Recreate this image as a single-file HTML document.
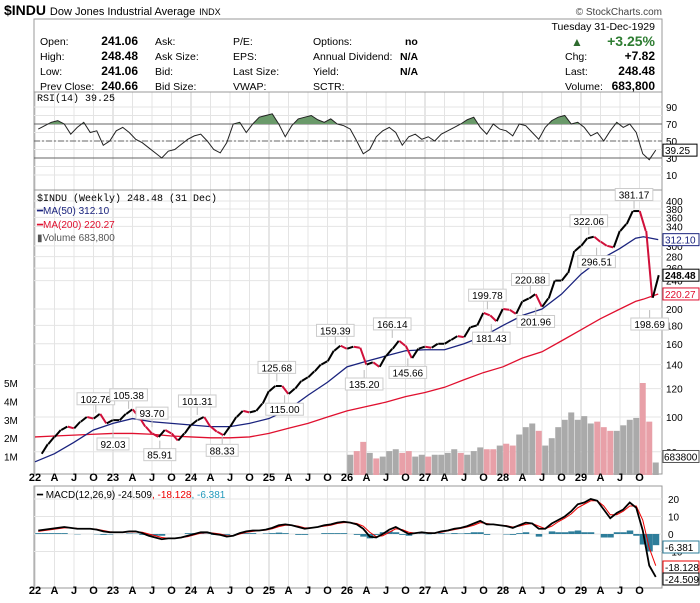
<!DOCTYPE html>
<html><head><meta charset="utf-8"><style>
body{margin:0;background:#fff;}
svg{display:block;font-family:"Liberation Sans",sans-serif;}
</style></head><body>
<svg id="c" width="700" height="603" viewBox="0 0 700 603" xmlns="http://www.w3.org/2000/svg">
<text x="4" y="15" font-size="14" font-weight="bold">$INDU <tspan font-size="11" font-weight="normal">Dow Jones Industrial Average</tspan> <tspan font-size="9" font-weight="normal">INDX</tspan></text>
<text x="662" y="15" font-size="10" fill="#444" text-anchor="end">© StockCharts.com</text>
<g font-size="10.5">
<rect x="34" y="19" width="628" height="73" fill="#fff" stroke="#999"/>
<text x="655" y="30" text-anchor="end">Tuesday  31-Dec-1929</text>
<text x="40" y="45">Open:</text><text x="138" y="45" text-anchor="end" font-weight="bold" font-size="12">241.06</text>
<text x="40" y="60">High:</text><text x="138" y="60" text-anchor="end" font-weight="bold" font-size="12">248.48</text>
<text x="40" y="75">Low:</text><text x="138" y="75" text-anchor="end" font-weight="bold" font-size="12">241.06</text>
<text x="40" y="90">Prev Close:</text><text x="138" y="90" text-anchor="end" font-weight="bold" font-size="12">240.66</text>
<text x="155" y="45">Ask:</text><text x="155" y="60">Ask Size:</text><text x="155" y="75">Bid:</text><text x="155" y="90">Bid Size:</text>
<text x="233" y="45">P/E:</text><text x="233" y="60">EPS:</text><text x="233" y="75">Last Size:</text><text x="233" y="90">VWAP:</text>
<text x="313" y="45">Options:</text><text x="313" y="60">Annual Dividend:</text><text x="313" y="75">Yield:</text><text x="313" y="90">SCTR:</text>
<text x="405" y="45" font-weight="bold">no</text><text x="400" y="60" font-weight="bold">N/A</text><text x="400" y="75" font-weight="bold">N/A</text>
<text x="571" y="46" fill="#2e6b2e" font-size="12">▲</text>
<text x="655" y="46" text-anchor="end" fill="#2e7d32" font-weight="bold" font-size="14">+3.25%</text>
<text x="565" y="60">Chg:</text><text x="655" y="60" text-anchor="end" font-weight="bold" font-size="12">+7.82</text>
<text x="565" y="75">Last:</text><text x="655" y="75" text-anchor="end" font-weight="bold" font-size="12">248.48</text>
<text x="565" y="90">Volume:</text><text x="655" y="90" text-anchor="end" font-weight="bold" font-size="12">683,800</text>
</g>
<g id="grid"></g><g id="marks"></g>
</svg>
<script>
const rsiValues=[64,68,72,74,70,58,66,72,60,62,45,50, 62,66,60,52,48,42,36,30,38,40,46,52, 56,58,50,40,36,48,70,72,60,70,78,80, 82,70,55,68,76,78,80,75,72,76,70,68, 64,50,35,40,55,62,66,60,45,55,58,52, 55,50,58,62,66,70,75,78,66,58,70,64, 62,56,70,68,60,52,66,74,78,80,70,72, 66,56,60,50,62,72,66,70,60,35,28,39.25];
const closes=[79,84,88,92,94,93,97,100,99,102,96,98, 98,102,105,100,94,90,88,92,90,86,90,95, 98,100,94,91,89,94,100,104,103,104,109,118, 122,122,116,120,126,129,134,140,143,153,158,155, 157,156,140,142,138,148,155,163,158,146,155,157, 156,160,160,164,168,167,178,180,195,192,185,200, 199,194,210,214,220,203,214,240,240,252,290,300, 315,318,308,300,297,330,345,375,375,330,215,248.48];
const maDates=[1922,1922.25,1922.5,1922.75,1923,1923.25,1923.5,1923.75,1924,1924.25,1924.5,1924.75,1925,1925.25,1925.5,1925.75,1926,1926.25,1926.5,1926.75,1927,1927.25,1927.5,1927.75,1928,1928.25,1928.5,1928.75,1929,1929.25,1929.5,1929.7,1929.8,1929.99];
const ma50=[75,79,85,92,96,99,97,96,95,94,94,96,99,105,115,125,138,143,148,153,154,154,160,168,180,192,200,220,250,275,295,315,318,312.1];
const ma200=[88,88.5,89,89.5,90,90,89.5,88.5,88,87.5,87.5,88,90,93,96,100,104,107,110,114,117,121,127,133,138,146,152,163,175,188,200,210,213,220.27];
const volumes=[1.1,1.3,1.8,1.2,0.9,1.0,1.3,1.4,1.2,1.3,1.0,1.1, 1.0,1.1,1.1,1.2,1.4,1.2,1.1,1.3,1.5,1.4,1.4,1.6, 1.7,1.6,2.2,2.6,2.8,2.4,1.6,2.0,2.6,3.0,3.4,3.0, 3.2,2.8,2.9,2.6,2.4,2.4,2.7,3.0,3.1,5.0,2.9,0.68];
const macdLine=[2,2.5,3,3.5,4,3.5,3,3,3,2.5,1.5,1, 1,1,1.5,1.5,0.5,-1,-2,-3,-2.5,-2.5,-2,-1, 0,1,1,0,-0.5,-1.5,-1,0.5,1.5,2,2,2.5, 3.5,5,5.5,5,4,3,3.5,4,5,5.5,6.5,7, 6.5,5.5,3,-1.5,-2,0,2.5,4,2,0,0.5,1, 0.5,0.5,1.5,2,3,3.5,4.5,6,7.5,5.5,5.5,5, 4.5,3.5,5,6.5,6,3,3,6,8,10,13,17, 18,20,19,14,9,12,14,18,15,2,-18,-24.509];
const signalLine=[1.5,2,2.5,3,3.5,3.5,3.2,3,3,2.7,2,1.3, 1,1,1.2,1.3,1,0,-1,-2,-2.5,-2.5,-2,-1.5, -0.5,0.5,0.8,0.5,0,-1,-1,0,1,1.5,2,2.2, 3,4.2,5,5,4.5,3.5,3.5,4,4.5,5,6,6.5, 6.5,6,4.5,1,-1.5,-1,1,3,2.5,1,0.5,0.8, 0.7,0.5,1,1.8,2.5,3.2,4,5,6.5,6,5.5,5, 4.8,4,4.5,5.5,6,4.5,3,4.5,7,9,11.5,15, 17,19,19,16,11,11,13,16,16,8,-8,-18.128];
const peakLabels=[102.76,105.38,92.03,93.70,85.91,101.31,88.33,125.68,115.00,159.39,135.20,166.14,145.66,199.78,181.43,220.88,201.96,322.06,296.51,381.17,198.69];
const peakDates=[1922.78,1923.2,1923.0,1923.5,1923.6,1924.08,1924.4,1925.1,1925.2,1925.85,1926.22,1926.58,1926.78,1927.8,1927.85,1928.35,1928.42,1929.1,1929.2,1929.68,1929.88];
const peakAbove=[1,1,0,1,0,1,0,1,0,1,0,1,0,1,0,1,0,1,0,1,0];
const priceTicks=[80,100,120,140,160,180,200,240,260,280,300,340,360,380,400];
const volTicks=[1,2,3,4,5];
const rsiTicks=[10,30,50,70,90];
const macdTicks=[-10,0,10,20];
const monthLabels=["22","A","J","O","23","A","J","O","24","A","J","O","25","A","J","O","26","A","J","O","27","A","J","O","28","A","J","O","29","A","J","O"];

const NS="http://www.w3.org/2000/svg";
const G=document.getElementById('grid'),M=document.getElementById('marks');
function el(tag,at,parent,txt){const e=document.createElementNS(NS,tag);for(const k in at)e.setAttribute(k,at[k]);if(txt!==undefined)e.textContent=txt;(parent||M).appendChild(e);return e;}
const L=34,R=662;
const xT=t=>35+(t-1922)*78;
const xI=i=>xT(1922+(i+0.5)/12);
const yRsi=v=>141-(v-50)*0.85;
const yP=v=>309-108*Math.log2(v/200);
const yV=v=>475-v*18.4;
const yM=v=>534-v*1.75;
function panel(y1,y2,name){const r=el('rect',{x:L,y:y1,width:R-L,height:y2-y1,fill:'none',stroke:'#999'},G);}
const panels=[[92,190],[190,474],[486,588]];
// vertical grid
for(let k=0;k<32;k++){const x=xT(1922+k/4);panels.forEach(p=>el('line',{x1:x,x2:x,y1:p[0],y2:p[1],stroke:k%4?'#e4e4e4':'#ccc'},G));}
panel(92,190,'rsi-panel');panel(190,474,'price-panel');panel(486,588,'macd-panel');
// RSI
for(let v=10;v<=90;v+=10)el('line',{x1:L,x2:R,y1:yRsi(v),y2:yRsi(v),stroke:'#e4e4e4'},G);
el('line',{x1:L,x2:R,y1:yRsi(70),y2:yRsi(70),stroke:'#666'});el('line',{x1:L,x2:R,y1:yRsi(30),y2:yRsi(30),stroke:'#666'});
el('line',{x1:L,x2:R,y1:yRsi(50),y2:yRsi(50),stroke:'#666','stroke-dasharray':'6,2,2,2'});
rsiTicks.forEach(v=>{const t=el('text',{x:666,y:yRsi(v)+4,'font-size':10},M,v);});
let rp=rsiValues.map((v,i)=>xI(i)+','+yRsi(v)).join(' ');
const clip=el('clipPath',{id:'ob'},G);el('rect',{x:L,y:92,width:R-L,height:yRsi(70)-92},clip);
const ra=el('polygon',{points:xI(0)+','+yRsi(70)+' '+rp+' '+xI(95)+','+yRsi(70),fill:'#6a9a6a','clip-path':'url(#ob)'});

const rl=el('polyline',{points:rp,fill:'none',stroke:'#222','stroke-width':1});

el('text',{x:37,y:101,'font-size':10,'font-family':'Liberation Mono,monospace'},M,'RSI(14) 39.25');
el('rect',{x:663,y:yRsi(39.25)-6,width:34,height:12,fill:'#fff',stroke:'#000'});el('text',{x:665,y:yRsi(39.25)+4,'font-size':10},M,'39.25');
// price grid & ticks
priceTicks.forEach(v=>{el('line',{x1:L,x2:R,y1:yP(v),y2:yP(v),stroke:'#e4e4e4'},G);const t=el('text',{x:666,y:yP(v)+4,'font-size':10},M,v);});
volTicks.forEach(v=>{const t=el('text',{x:4,y:yV(v)+4,'font-size':10},M,v+'M');});
// volume
volumes.forEach((v,i)=>{const idx=48+i;const up=closes[idx]>=closes[idx-1];const b=el('rect',{x:xI(idx)-3,y:yV(v),width:6,height:475-yV(v),fill:up?'#aaa':'#e8a0a8'});});
// MAs
const m2=el('polyline',{points:ma200.map((v,i)=>xT(maDates[i])+','+yP(v)).join(' '),fill:'none',stroke:'#e0102f','stroke-width':1.3});

const m5=el('polyline',{points:ma50.map((v,i)=>xT(maDates[i])+','+yP(v)).join(' '),fill:'none',stroke:'#1a237e','stroke-width':1.3});

// price bars
closes.forEach((c,i)=>{if(!i)return;const p=closes[i-1];const s=el('line',{x1:xI(i)-3,x2:xI(i)+3,y1:yP(p),y2:yP(c),stroke:c>=p?'#000':'#d0103a','stroke-width':2});});
// annotations
peakLabels.forEach((v,i)=>{const x=xT(peakDates[i]);const y=peakAbove[i]?yP(v)-14:yP(v)+14;const s=v.toFixed(2);const w=s.length*5.6+4;
el('line',{x1:x,x2:x,y1:yP(v),y2:y,stroke:'#bbb'});
const b=el('rect',{x:x-w/2,y:y-6,width:w,height:12,fill:'#fff',stroke:'#ccc'});
el('text',{x:x,y:y+4,'font-size':10,'text-anchor':'middle'},M,s);});
el('text',{x:37,y:201,'font-size':10,'font-family':'Liberation Mono,monospace'},M,'$INDU (Weekly) 248.48 (31 Dec)');
el('text',{x:37,y:214,'font-size':10,fill:'#1a237e'},M,'━MA(50) 312.10');
el('text',{x:37,y:228,'font-size':10,fill:'#e0102f'},M,'━MA(200) 220.27');
el('text',{x:37,y:241,'font-size':10,fill:'#555'},M,'▮Volume 683,800');
[[312.10,'312.10','#1a237e'],[248.48,'248.48','#000'],[220.27,'220.27','#e0102f']].forEach(a=>{el('rect',{x:663,y:yP(a[0])-6,width:36,height:12,fill:'#fff',stroke:a[2]});el('text',{x:665,y:yP(a[0])+4,'font-size':10,fill:a[2],'font-weight':a[2]=='#000'?'bold':'normal'},M,a[1]);});
el('rect',{x:663,y:yV(0.68)-12,width:36,height:12,fill:'#fff',stroke:'#555'});el('text',{x:664,y:yV(0.68)-2,'font-size':10},M,'683800');
// x axes
[481,594].forEach(y=>monthLabels.forEach((s,k)=>{const t=el('text',{x:xT(1922+k/4),y:y,'font-size':11,'font-weight':'bold','text-anchor':'middle'},M,s);}));
// MACD
macdTicks.forEach(v=>{el('line',{x1:L,x2:R,y1:yM(v),y2:yM(v),stroke:'#e4e4e4'},G);const t=el('text',{x:668,y:yM(v)+4,'font-size':10},M,v);});
macdLine.forEach((v,i)=>{const h=v-signalLine[i];const b=el('rect',{x:xI(i)-3,y:Math.min(yM(0),yM(h)),width:6.5,height:Math.abs(yM(h)-yM(0)),fill:'#2e7d9a'});});
const sg=el('polyline',{points:signalLine.map((v,i)=>xI(i)+','+yM(v)).join(' '),fill:'none',stroke:'#e00','stroke-width':1});

const ml=el('polyline',{points:macdLine.map((v,i)=>xI(i)+','+yM(v)).join(' '),fill:'none',stroke:'#000','stroke-width':1.8});

const mt=el('text',{x:37,y:498,'font-size':10},M);mt.innerHTML='<tspan>━ MACD(12,26,9) -24.509</tspan><tspan fill="#e00">, -18.128</tspan><tspan fill="#29b">, -6.381</tspan>';
[[547,'-6.381','#2e7d9a'],[567,'-18.128','#e00'],[579,'-24.509','#000']].forEach(a=>{el('rect',{x:663,y:a[0]-6,width:36,height:12,fill:'#fff',stroke:a[2]});el('text',{x:665,y:a[0]+4,'font-size':10},M,a[1]);});
</script>
</body></html>
